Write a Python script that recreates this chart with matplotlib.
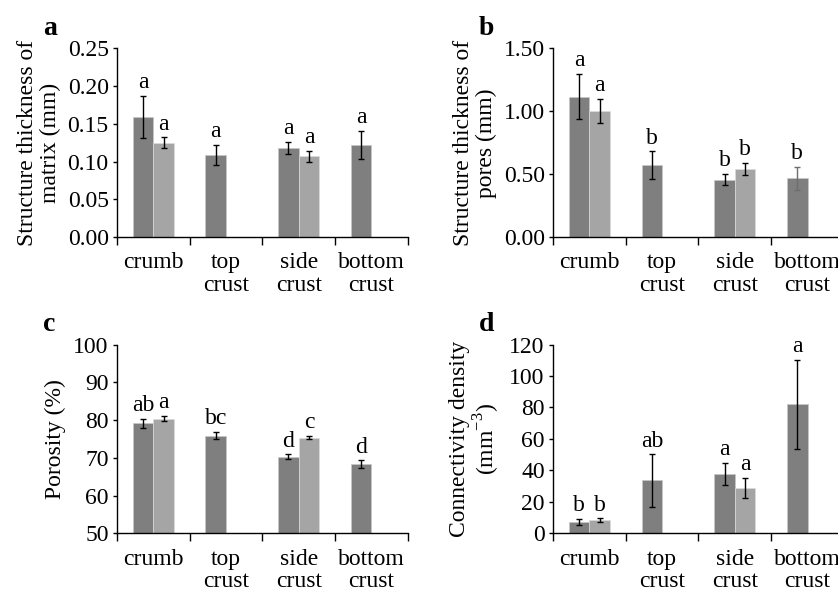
import numpy as np
import matplotlib
matplotlib.use("Agg")
import matplotlib.pyplot as plt

plt.rcParams['font.family'] = ['Liberation Serif', 'DejaVu Serif']
plt.rcParams['mathtext.fontset'] = 'custom'
plt.rcParams['mathtext.rm'] = 'Liberation Serif'

categories = ['crumb', 'top\ncrust', 'side\ncrust', 'bottom\ncrust']

# panel a - structure thickness of matrix (mm)
a_dark = [0.159, 0.109, 0.118, 0.122]
a_dark_err = [0.028, 0.013, 0.008, 0.019]
a_light = [0.125, np.nan, 0.107, np.nan]
a_light_err = [0.007, np.nan, 0.0075, np.nan]
a_dark_lbl = ['a', 'a', 'a', 'a']
a_light_lbl = ['a', '', 'a', '']

# panel b - structure thickness of pores (mm)
b_dark = [1.116, 0.571, 0.457, 0.468]
b_dark_err = [0.18, 0.11, 0.043, 0.09]
b_light = [1.005, np.nan, 0.542, np.nan]
b_light_err = [0.095, np.nan, 0.05, np.nan]
b_dark_lbl = ['a', 'b', 'b', 'b']
b_light_lbl = ['a', '', 'b', '']

# panel c - porosity (%)
c_dark = [79.1, 75.9, 70.3, 68.3]
c_dark_err = [1.2, 1.0, 0.6, 1.0]
c_light = [80.4, np.nan, 75.3, np.nan]
c_light_err = [0.7, np.nan, 0.4, np.nan]
c_dark_lbl = ['ab', 'bc', 'd', 'd']
c_light_lbl = ['a', '', 'c', '']

# panel d - connectivity density (mm-3)
d_dark = [7.2, 33.6, 37.7, 81.9]
d_dark_err = [2.1, 16.6, 7.0, 28.5]
d_light = [8.2, np.nan, 28.6, np.nan]
d_light_err = [1.3, np.nan, 6.4, np.nan]
d_dark_lbl = ['b', 'ab', 'a', 'a']
d_light_lbl = ['b', '', 'a', '']

dark_col = '#7f7f7f'
light_col = '#a5a5a5'
fs = 17
w = 0.283

fig = plt.figure(figsize=(8.38, 5.90), dpi=100)


def panel(rect, dark, dark_err, light, light_err, dlbl, llbl, ylim, yticks,
          fmt, ylabel, letter, lblpad=2, err_cols=None):
    ax = fig.add_axes(rect)
    x = np.arange(len(categories)) + 0.5
    if err_cols is None:
        err_cols = ['black'] * len(dark)
    ax.bar(x - w, dark, width=w, align='edge', color=dark_col,
           edgecolor='#c8c8c8', linewidth=0.5, zorder=2)
    ax.bar(x, light, width=w, align='edge', color=light_col,
           edgecolor='#dcdcdc', linewidth=0.5, zorder=2)
    for i in range(len(dark)):
        ax.errorbar(x[i] - w / 2, dark[i], yerr=dark_err[i], fmt='none',
                    ecolor=err_cols[i], elinewidth=1, capsize=2, capthick=1, zorder=3)
        ax.annotate(dlbl[i], (x[i] - w / 2, dark[i] + dark_err[i]),
                    xytext=(0, lblpad), textcoords='offset points',
                    ha='center', va='bottom', fontsize=fs)
        if not np.isnan(light[i]):
            ax.errorbar(x[i] + w / 2, light[i], yerr=light_err[i], fmt='none',
                        ecolor='black', elinewidth=1, capsize=2, capthick=1, zorder=3)
            ax.annotate(llbl[i], (x[i] + w / 2, light[i] + light_err[i]),
                        xytext=(0, lblpad), textcoords='offset points',
                        ha='center', va='bottom', fontsize=fs)
    ax.set_xlim(0, len(categories))
    ax.set_ylim(*ylim)
    ax.set_yticks(yticks)
    ax.set_yticklabels([fmt.format(v) for v in yticks], fontsize=fs)
    ax.set_xticks(np.arange(len(categories) + 1))
    ax.set_xticklabels([])
    ax.set_xticks(x, minor=True)
    ax.set_xticklabels(categories, minor=True, fontsize=fs, linespacing=1.08)
    ax.tick_params(axis='x', which='minor', length=0, pad=11)
    ax.tick_params(axis='x', which='major', length=6, width=1, direction='out')
    ax.tick_params(axis='y', length=3, width=1, direction='out', pad=3)
    for s in ['top', 'right']:
        ax.spines[s].set_visible(False)
    for s in ['left', 'bottom']:
        ax.spines[s].set_linewidth(1)
    ax.set_ylabel(ylabel, fontsize=fs, linespacing=1.1, labelpad=5)
    ax.text(-0.255, 1.04, letter, transform=ax.transAxes, fontsize=20,
            fontweight='bold', ha='left', va='bottom')
    return ax


ax_w = 0.347
ax_h = 0.320
panel([0.1396, 0.598, ax_w, ax_h], a_dark, a_dark_err, a_light, a_light_err,
      a_dark_lbl, a_light_lbl, (0, 0.25), [0, 0.05, 0.10, 0.15, 0.20, 0.25],
      '{:.2f}', 'Structure thickness of\nmatrix (mm)', 'a')
panel([0.660, 0.598, ax_w, ax_h], b_dark, b_dark_err, b_light, b_light_err,
      b_dark_lbl, b_light_lbl, (0, 1.5), [0, 0.5, 1.0, 1.5],
      '{:.2f}', 'Structure thickness of\npores (mm)', 'b',
      err_cols=['black', 'black', 'black', '#6e6e6e'])
panel([0.1396, 0.0961, ax_w, ax_h], c_dark, c_dark_err, c_light, c_light_err,
      c_dark_lbl, c_light_lbl, (50, 100), [50, 60, 70, 80, 90, 100],
      '{:.0f}', 'Porosity (%)', 'c')
panel([0.660, 0.0961, ax_w, ax_h], d_dark, d_dark_err, d_light, d_light_err,
      d_dark_lbl, d_light_lbl, (0, 120), [0, 20, 40, 60, 80, 100, 120],
      '{:.0f}', 'Connectivity density\n(mm$^{\\mathregular{-3}}$)', 'd')

fig.savefig('out.png', dpi=100)
